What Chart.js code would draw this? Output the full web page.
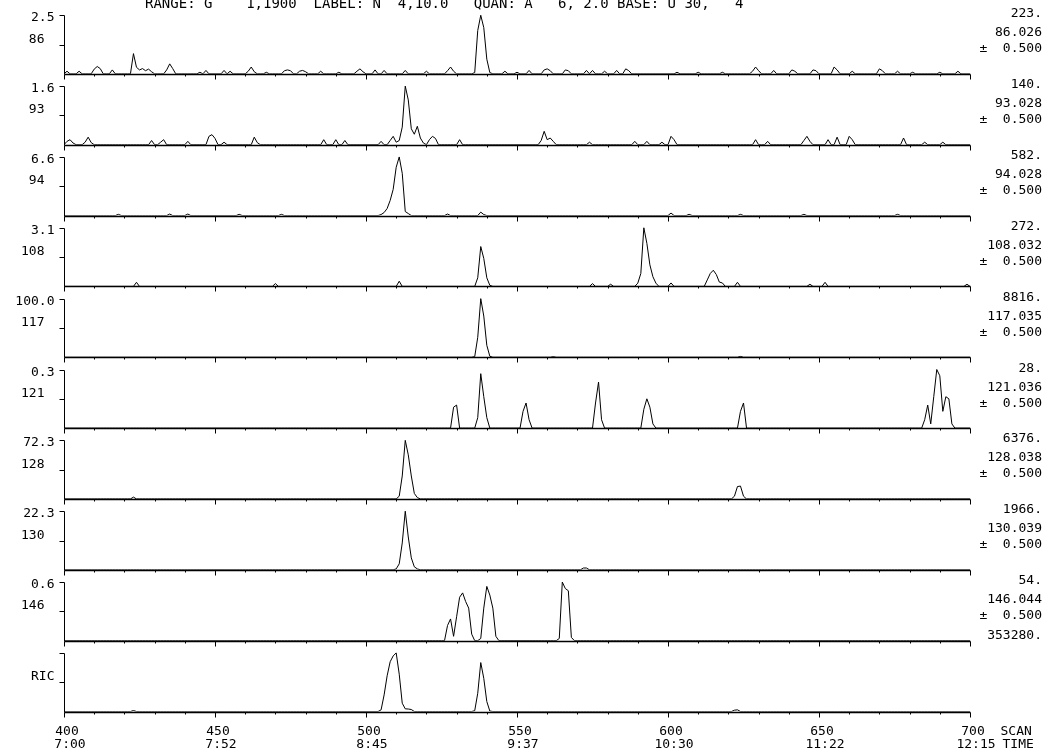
<!DOCTYPE html>
<html>
<head>
<meta charset="utf-8">
<title>Mass chromatograms, scans 400-700</title>
<script src="https://cdn.jsdelivr.net/npm/chart.js@4/dist/chart.umd.min.js"></script>
<style>
  html, body { margin: 0; padding: 0; background: #fff; }
  #wrap { position: relative; width: 1054px; height: 755px; }
</style>
</head>
<body>
<div id="wrap"><canvas id="chrom" width="1054" height="755"></canvas></div>
<script>
// scan axis
const SCAN_MIN = 400, SCAN_MAX = 700;
const scanTicks = [400, 450, 500, 550, 600, 650, 700];
const timeTicks = ['7:00', '7:52', '8:45', '9:37', '10:30', '11:22', '12:15'];

// one entry per trace, top to bottom
const massLabels  = ['86', '93', '94', '108', '117', '121', '128', '130', '146', 'RIC'];
const exactMasses = ['86.026', '93.028', '94.028', '108.032', '117.035', '121.036', '128.038', '130.039', '146.044'];
const pctLabels   = ['2.5', '1.6', '6.6', '3.1', '100.0', '0.3', '72.3', '22.3', '0.6'];
const fullScale   = [223, 140, 582, 272, 8816, 28, 6376, 1966, 54, 353280];
const massWindow  = '0.500';

const header = 'RANGE: G    1,1900  LABEL: N  4,10.0   QUAN: A   6, 2.0 BASE: U 30,   4';

// [scan, counts]; scans not listed sit on the baseline
const trace86 = [[401,10],[405,10],[410,18],[411,28],[412,20],[416,15],[423,77],[424,25],[425,15],
  [426,20],[427,12],[428,18],[429,8],[434,15],[435,38],[436,20],[445,6],[447,13],[453,13],[455,10],
  [461,10],[462,26],[463,8],[467,6],[473,12],[474,15],[475,12],[478,10],[479,13],[480,8],[485,10],
  [491,6],[497,10],[498,19],[499,8],[503,15],[506,13],[513,13],[520,10],[527,12],[528,26],[529,10],
  [536,5],[537,165],[538,223],[539,176],[540,56],[541,5],[546,10],[550,6],[554,13],[559,15],[560,19],
  [561,12],[566,15],[567,12],[573,13],[575,13],[579,10],[583,13],[586,19],[587,12],[603,6],[610,6],
  [618,6],[628,10],[629,26],[630,12],[635,13],[641,15],[642,10],[648,15],[649,12],[655,26],[656,15],
  [661,10],[670,19],[671,12],[676,10],[681,6],[690,6],[696,10]];
const trace93 = [[401,8],[402,12],[403,4],[407,6],[408,18],[409,5],[429,10],[432,6],[433,12],[441,8],
  [448,20],[449,24],[450,15],[453,6],[463,18],[464,5],[486,12],[490,12],[493,10],[505,8],[508,10],
  [509,20],[510,6],[511,10],[512,42],[513,140],[514,107],[515,38],[516,25],[517,44],[518,16],[519,4],
  [521,12],[522,20],[523,15],[531,12],[558,10],[559,32],[560,12],[561,16],[562,8],[574,6],[589,8],
  [593,8],[598,6],[601,20],[602,12],[629,12],[633,8],[645,10],[646,20],[647,8],[653,12],[656,18],
  [660,20],[661,12],[678,16],[685,6],[691,6]];
const trace94 = [[418,12],[435,15],[441,15],[458,12],[472,12],[505,10],[506,30],[507,70],[508,150],
  [509,260],[510,480],[511,582],[512,420],[513,40],[514,20],[527,15],[538,34],[539,10],[601,25],
  [607,12],[624,12],[645,12],[676,12]];
const trace108 = [[424,19],[470,13],[511,24],[537,40],[538,185],[539,130],[540,40],[541,5],[575,13],
  [581,10],[590,15],[591,60],[592,272],[593,200],[594,100],[595,45],[596,15],[601,16],[613,30],
  [614,60],[615,75],[616,55],[617,20],[618,16],[623,19],[647,10],[652,19],[699,10]];
const trace117 = [[536,100],[537,3000],[538,8816],[539,6200],[540,1800],[541,150],[562,80],[624,120]];
const trace121 = [[529,10],[530,11],[537,5],[538,26],[539,15],[540,5],[552,8],[553,12],[554,4],
  [576,12],[577,22],[578,4],[592,9],[593,14],[594,10],[595,2],[624,8],[625,12],[685,4],[686,11],
  [687,2],[688,15],[689,28],[690,25],[691,8],[692,15],[693,14],[694,2]];
const trace128 = [[423,200],[511,300],[512,2500],[513,6376],[514,4800],[515,2500],[516,600],[517,150],
  [622,300],[623,1350],[624,1400],[625,300]];
const trace130 = [[510,30],[511,200],[512,900],[513,1966],[514,1100],[515,400],[516,100],[517,30],
  [572,60],[573,60]];
const trace146 = [[527,14],[528,20],[529,4],[530,22],[531,40],[532,44],[533,36],[534,30],[535,6],
  [538,2],[539,30],[540,50],[541,42],[542,30],[543,4],[564,2],[565,54],[566,48],[567,46],[568,3]];
const traceRIC = [[423,6000],[505,10000],[506,100000],[507,215000],[508,300000],[509,335000],
  [510,353280],[511,225000],[512,50000],[513,16000],[514,15000],[515,12000],[536,5000],[537,110000],
  [538,295000],[539,200000],[540,60000],[541,3000],[622,8000],[623,10000]];

const traces = [trace86, trace93, trace94, trace108, trace117, trace121, trace128, trace130, trace146, traceRIC];

const FONT = '13px "DejaVu Sans Mono", "Liberation Mono", monospace';
const HEAD_FONT = '14px "DejaVu Sans Mono", "Liberation Mono", monospace';
// each trace gets an equal slice of the plot; the top of the slice is left blank
const SLICE_H = 70.85, PLOT_H = 58.6;

function toSeries(readings) {
  const pts = [];
  for (let s = SCAN_MIN; s <= SCAN_MAX; s++) pts.push({ x: s, y: 0 });
  readings.forEach(([s, v]) => { pts[s - SCAN_MIN].y = v; });
  return pts;
}

const frame = {
  id: 'frame',
  afterDatasetsDraw(chart) {
    const { ctx } = chart;
    const xs = chart.scales.x;
    const px = v => Math.round(xs.getPixelForValue(v)) + 0.5;
    const x0 = px(SCAN_MIN), x1 = px(SCAN_MAX);
    ctx.save();
    ctx.strokeStyle = '#000';
    ctx.fillStyle = '#000';
    ctx.font = FONT;
    ctx.textBaseline = 'middle';

    fullScale.forEach((top, i) => {
      const ys = chart.scales['y' + i];
      const yTop = Math.round(ys.getPixelForValue(top)) + 0.5;
      const yMid = Math.round(ys.getPixelForValue(top / 2)) + 0.5;
      const yBase = Math.round(ys.getPixelForValue(0)) + 0.5;

      // left axis with its top and middle ticks
      ctx.lineWidth = 1;
      ctx.beginPath();
      ctx.moveTo(x0 - 5, yTop); ctx.lineTo(x0, yTop); ctx.lineTo(x0, yBase);
      ctx.moveTo(x0 - 5, yMid); ctx.lineTo(x0, yMid);
      ctx.stroke();

      // baseline and scan ticks
      ctx.lineWidth = 1.5;
      ctx.beginPath(); ctx.moveTo(x0, yBase); ctx.lineTo(x1, yBase); ctx.stroke();
      ctx.lineWidth = 1;
      ctx.beginPath();
      for (let s = SCAN_MIN; s <= SCAN_MAX; s += 10) {
        const x = px(s);
        ctx.moveTo(x, yBase); ctx.lineTo(x, yBase + (s % 50 === 0 ? 5 : 2));
      }
      ctx.stroke();

      // left labels
      ctx.textAlign = 'right';
      if (i < pctLabels.length) {
        ctx.fillText(pctLabels[i], x0 - 10, yTop + 2);
        ctx.fillText(massLabels[i], x0 - 20, yMid - 5.5);
      } else {
        ctx.fillText(massLabels[i], x0 - 10, yMid - 6);
      }

      // right labels
      if (i < exactMasses.length) {
        ctx.fillText(top + '.', 1042, yTop - 2);
        ctx.fillText(exactMasses[i], 1042, yTop + 17);
        ctx.fillText('\u00b1  ' + massWindow, 1042, yTop + 33);
      } else {
        ctx.fillText(top + '.', 1042, yTop - 18);
      }
    });

    // scan / time labels under the last trace
    ctx.textAlign = 'center';
    scanTicks.forEach((s, k) => {
      const x = xs.getPixelForValue(s);
      ctx.fillText(String(s), x + 3, 731.5);
      ctx.fillText(timeTicks[k], x + 6, 745);
    });
    ctx.textAlign = 'left';
    ctx.fillText('SCAN', x1 + 30, 731.5);
    ctx.fillText('TIME', x1 + 32, 745);

    // run header, clipped at the top edge
    ctx.font = HEAD_FONT;
    ctx.textBaseline = 'alphabetic';
    ctx.fillText(header, 145, 8);
    ctx.restore();
  }
};

const scales = { x: { type: 'linear', min: SCAN_MIN, max: SCAN_MAX, display: false } };
fullScale.forEach((top, i) => {
  scales['y' + i] = {
    type: 'linear', position: 'left', stack: 'traces', stackWeight: 1,
    weight: fullScale.length - i,
    min: 0, max: top * SLICE_H / PLOT_H,
    display: false
  };
});

new Chart(document.getElementById('chrom'), {
  type: 'line',
  data: {
    datasets: traces.map((t, i) => ({
      label: massLabels[i],
      data: toSeries(t),
      xAxisID: 'x',
      yAxisID: 'y' + i,
      borderColor: '#000',
      borderWidth: 1,
      pointRadius: 0,
      tension: 0,
      fill: false
    }))
  },
  options: {
    responsive: false,
    animation: false,
    events: [],
    layout: { padding: { left: 64, right: 84, top: 3, bottom: 43.5 } },
    plugins: { legend: { display: false }, tooltip: { enabled: false } },
    scales
  },
  plugins: [frame]
});
</script>
</body>
</html>
